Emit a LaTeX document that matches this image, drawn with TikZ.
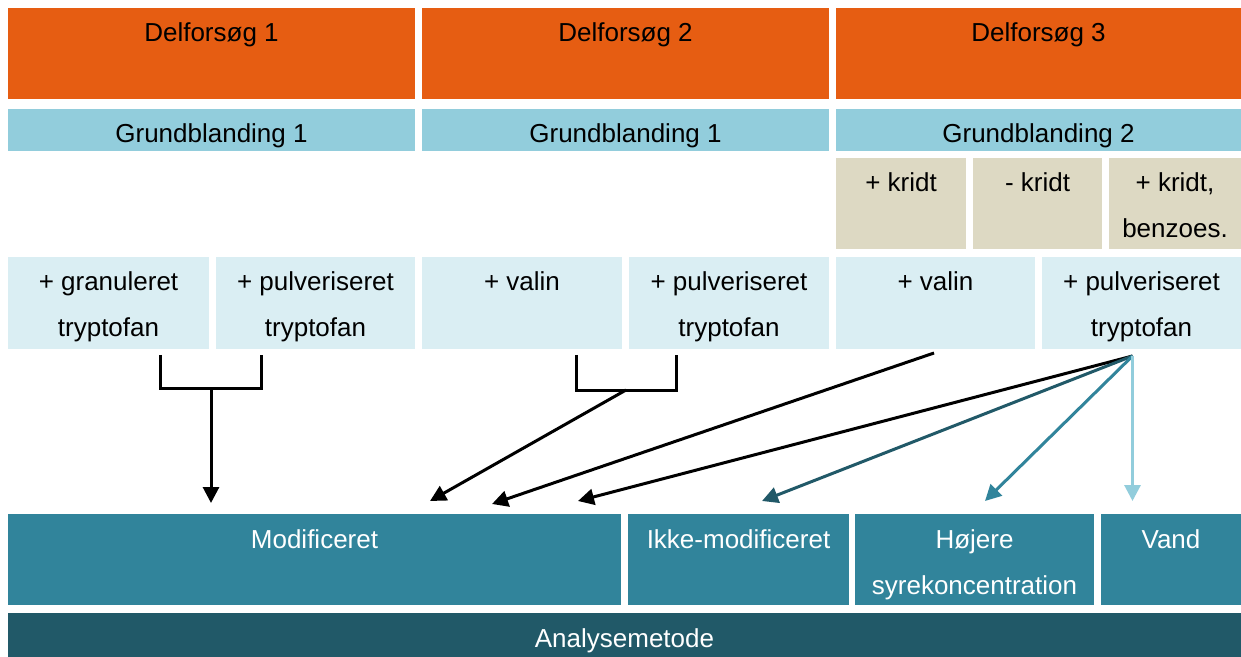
\documentclass[tikz,border=0pt]{standalone}
\usepackage{fontspec}
\setmainfont{Liberation Sans}
\usetikzlibrary{arrows.meta,calc}
\definecolor{orng}{RGB}{230,93,18}
\definecolor{grund}{RGB}{146,205,220}
\definecolor{tilsat}{RGB}{218,238,243}
\definecolor{kridt}{RGB}{221,217,195}
\definecolor{blaagroen}{RGB}{49,132,155}
\definecolor{dyb}{RGB}{33,89,104}
\newcommand{\felt}[8]{%
  \node [felt,fill=#6,minimum width={(#4-#2)*0.5pt},minimum height={(#5-#3)*0.5pt}] (#1) at (#2,#3) {};
  \node [anchor=base,text=#8] at ($(#1.north)+(0,34)$) {\begin{tabular}[t]{@{}c@{}}#7\end{tabular}};}

\begin{document}
\begin{tikzpicture}[x=0.5pt,y=-0.5pt,font=\fontsize{13}{23}\selectfont,
  felt/.style={anchor=north west,inner sep=0pt,outer sep=0pt},
  link/.style={line width=1.5pt},
  pil/.style={line width=1.5pt,-{Triangle[length=8pt,width=8pt]}}]
  \fill [white] (0,0) rectangle (1241,657);
  \useasboundingbox (0,0) rectangle (1241,657);
  \felt{d1}{8}{8}{415}{99}{orng}{Delforsøg 1}{black}
  \felt{d2}{422}{8}{829}{99}{orng}{Delforsøg 2}{black}
  \felt{d3}{836}{8}{1241}{99}{orng}{Delforsøg 3}{black}
  \felt{g1}{8}{109}{415}{151}{grund}{Grundblanding 1}{black}
  \felt{g2}{422}{109}{829}{151}{grund}{Grundblanding 1}{black}
  \felt{g3}{836}{109}{1241}{151}{grund}{Grundblanding 2}{black}
  \felt{k1}{836}{158}{966}{249}{kridt}{+ kridt}{black}
  \felt{k2}{973}{158}{1102}{249}{kridt}{- kridt}{black}
  \felt{k3}{1109}{158}{1241}{249}{kridt}{+ kridt,\\benzoes.}{black}
  \felt{t1}{8}{257}{209}{349}{tilsat}{+ granuleret\\tryptofan}{black}
  \felt{t2}{216}{257}{415}{349}{tilsat}{+ pulveriseret\\tryptofan}{black}
  \felt{t3}{422}{257}{622}{349}{tilsat}{+ valin}{black}
  \felt{t4}{629}{257}{829}{349}{tilsat}{+ pulveriseret\\tryptofan}{black}
  \felt{t5}{836}{257}{1035}{349}{tilsat}{+ valin}{black}
  \felt{t6}{1042}{257}{1241}{349}{tilsat}{+ pulveriseret\\tryptofan}{black}
  \felt{m}{8}{514}{621}{605}{blaagroen}{Modificeret}{white}
  \felt{ik}{628}{514}{849}{605}{blaagroen}{Ikke-modificeret}{white}
  \felt{hs}{855}{514}{1094}{605}{blaagroen}{Højere\\syrekoncentration}{white}
  \felt{v}{1101}{514}{1241}{605}{blaagroen}{Vand}{white}
  \felt{am}{8}{613}{1241}{657}{dyb}{Analysemetode}{white}

  % samlede forsog
  \draw [link] ($(t1.south)+(51.5,6)$) |- ($(t2.south)+(-54.5,39)$) -- ++(0,-33);
  \draw [link] ($(t3.south)+(54,6)$) |- ($(t4.south)+(-53,41)$) -- ++(0,-35);
  \coordinate (j1) at ($(t1.south)+(102.5,39)$);
  \coordinate (j2) at ($(t3.south)+(104,41)$);
  \coordinate (f) at ($(t6.south)+(-9,7)$);
  \draw [pil] (j1) -- ($(m.north)+(-103.5,-11)$);
  \draw [pil] (j2) -- ($(m.north)+(115.5,-13)$);
  \draw [pil] ($(t5.south)+(-1.5,4)$) -- ($(m.north)+(177.5,-10)$);
  \draw [pil] (f) -- ($(m.north)+(263.5,-13)$);
  \draw [pil,dyb] (f) -- ($(ik.north)+(23.5,-13)$);
  \draw [pil,blaagroen] (f) -- ($(hs.north)+(10.5,-13)$);
  \draw [pil,grund] (f) -- ($(v.north)+(-38.5,-13)$);
\end{tikzpicture}
\end{document}
